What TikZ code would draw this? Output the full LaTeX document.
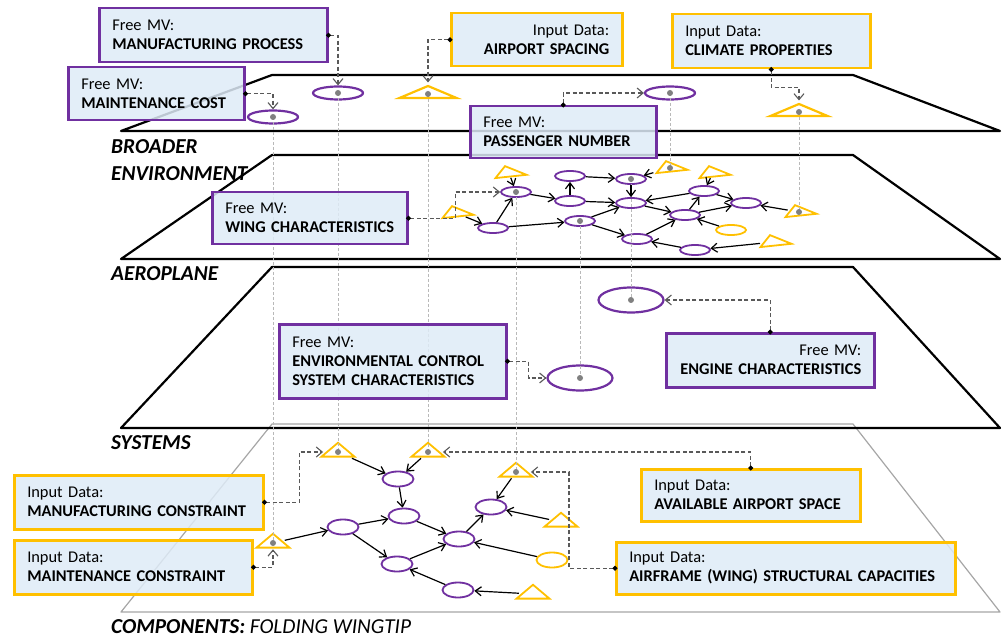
\documentclass[tikz,border=0pt]{standalone}
\usepackage{fontspec}
\setmainfont{Carlito}
\usepackage{xcolor}
\usepackage{tikz}
\usetikzlibrary{arrows.meta,shapes.geometric}
\definecolor{mvpurple}{HTML}{7030A0}
\definecolor{datagold}{HTML}{FFC000}
\definecolor{boxblue}{HTML}{DEEBF7}

\begin{document}
\begin{tikzpicture}[x=1pt,y=-1pt,
  layer/.style={draw=black,line width=2.2pt,line join=round},
  sublayer/.style={draw=gray!70,line width=1.2pt,line join=round},
  layerlabel/.style={font=\fontsize{21.3}{24}\selectfont\bfseries\itshape,inner sep=0pt,anchor=base west},
  mvnode/.style={ellipse,draw=mvpurple,line width=1.8pt,inner sep=0pt,minimum width=30pt,minimum height=10pt},
  topmv/.style={mvnode,minimum width=50pt,minimum height=13pt,line width=2.2pt},
  sysmv/.style={mvnode,minimum width=65pt,minimum height=25pt,line width=2.2pt},
  partmv/.style={mvnode,minimum width=31pt,minimum height=15pt},
  datanode/.style={regular polygon,regular polygon sides=3,draw=datagold,line width=1.8pt,inner sep=0pt,minimum size=10pt},
  topdata/.style={datanode,line width=2.2pt,xscale=6.6,yscale=1.6},
  planedata/.style={datanode,rotate=6,xslant=-0.45,xscale=3.6,yscale=1.45},
  partdata/.style={datanode,xscale=3.8,yscale=1.85},
  mvbox/.style={draw=mvpurple,line width=2.5pt,fill=boxblue,fill opacity=0.85,text opacity=1,anchor=north west,inner xsep=13pt,inner ysep=3pt,align=left,font=\fontsize{16.4}{19}\selectfont},
  databox/.style={mvbox,draw=datagold},
  link/.style={-{Straight Barb[length=6pt,width=9pt]},line width=1.2pt},
  feed/.style={{Circle[length=5pt,color=black]}-{Straight Barb[length=6pt,width=10pt]},shorten <=-2.5pt,draw=black!65,line width=1.1pt,dash pattern=on 4pt off 2.5pt},
  trace/.style={draw=gray!55,line width=0.7pt,dash pattern=on 3pt off 2pt},
  probe/.style={fill=gray}]
\useasboundingbox (0,0) rectangle (1002,639);

\draw[sublayer] (272,424) -- (853,424) -- (1000,612) -- (121,612) -- cycle;
\draw[layer] (272,267) -- (853,267) -- (1000,428) -- (121,428) -- cycle;
\draw[layer] (272,155) -- (853,155) -- (1000,259) -- (121,259) -- cycle;
\draw[layer] (272,75) -- (853,75) -- (1000,131) -- (121,131) -- cycle;

\node[layerlabel] (broader) at (111,154) {BROADER};
\node[layerlabel] (environment) at (111,181) {ENVIRONMENT};
\node[layerlabel] (aeroplane) at (111,280) {AEROPLANE};
\node[layerlabel] (systems) at (111,449) {SYSTEMS};
\node[layerlabel] (components) at (111,633) {COMPONENTS: {\mdseries FOLDING WINGTIP}};

\node[topmv] (e1) at (273,117) {};
\node[topmv] (e2) at (338,93) {};
\node[topdata] (t1) at (428,94) {};
\node[topmv] (e3) at (670,93) {};
\node[topdata] (t2) at (799,112) {};

\node[planedata] (a1) at (509,173) {};
\node[mvnode] (a2) at (516,192) {};
\node[mvnode] (a3) at (493,228) {};
\node[planedata] (a4) at (456,213) {};
\node[mvnode] (a5) at (570,176) {};
\node[mvnode] (a6) at (570,201) {};
\node[mvnode] (a7) at (580,221) {};
\node[mvnode] (a8) at (631,179) {};
\node[planedata] (a9) at (670,168) {};
\node[mvnode] (a10) at (631,203) {};
\node[mvnode] (a11) at (637,239) {};
\node[mvnode] (a12) at (685,215) {};
\node[mvnode] (a13) at (704,191) {};
\node[planedata] (a14) at (713,173) {};
\node[mvnode] (a15) at (746,203) {};
\node[planedata] (a16) at (799,212) {};
\node[mvnode,draw=datagold] (a17) at (731,230) {};
\node[mvnode] (a18) at (695,250) {};
\node[planedata] (a19) at (774,242) {};

\node[sysmv] (syseng) at (631,300) {};
\node[sysmv] (sysenv) at (580,378) {};

\node[partdata] (c1) at (273,543) {};
\node[partdata] (c2) at (338,452) {};
\node[partdata] (c3) at (428,452) {};
\node[partmv] (c4) at (398,479) {};
\node[partmv] (c5) at (404,516) {};
\node[partmv] (c6) at (343,527) {};
\node[partmv] (c7) at (397,564) {};
\node[partmv] (c8) at (459,539) {};
\node[partmv] (c9) at (491,507) {};
\node[partdata] (c10) at (516,472) {};
\node[partdata] (c11) at (561,522) {};
\node[partmv,draw=datagold] (c12) at (552,560) {};
\node[partmv] (c13) at (458,590) {};
\node[partdata] (c14) at (533,594) {};

\foreach \from/\to in {e1/c1,e2/c2,t1/c3,a2/c10,a7/sysenv,a8/syseng,e3/a9,t2/a16}
  \draw[trace] (\from.center) -- (\to.center);

\foreach \from/\to in {a1/a2,a4/a3,a3/a2,a2/a6,a6/a5,a5/a8,a9/a8,a8/a10,a6/a10,a3/a7,a7/a10,a7/a11,
  a11/a12,a10/a12,a12/a13,a13/a10,a14/a13,a13/a15,a12/a15,a16/a15,a17/a12,a18/a11,a19/a18,
  c2/c4,c3/c4,c4/c5,c1/c6,c6/c5,c6/c7,c5/c8,c7/c8,c8/c9,c10/c9,c11/c9,c12/c8,c13/c7,c14/c13}
  \draw[link] (\from) -- (\to);

\foreach \n in {e1,e2,t1,e3,t2,a2,a7,a8,a9,a16,sysenv,syseng,c1,c2,c3,c10}
  \fill[probe] (\n.center) circle (3);

\node[mvbox,minimum height=54pt,text width=202pt] (mfgproc) at (98,7) {Free MV:\\\textbf{MANUFACTURING PROCESS}};
\node[mvbox,minimum height=53pt,text width=150pt] (maintcost) at (67,66) {Free MV:\\\textbf{MAINTENANCE COST}};
\node[databox,align=right,minimum height=53pt,text width=145pt] (airport) at (450,12) {Input Data:\\\textbf{AIRPORT SPACING}};
\node[databox,minimum height=54pt,text width=172pt] (climate) at (671,13) {Input Data:\\\textbf{CLIMATE PROPERTIES}};
\node[mvbox,minimum height=52pt,text width=160pt] (passenger) at (469,105) {Free MV:\\\textbf{PASSENGER NUMBER}};
\node[mvbox,minimum height=52pt,text width=169pt] (wing) at (211,191) {Free MV:\\\textbf{WING CHARACTERISTICS}};
\node[mvbox,minimum height=74pt,text width=201pt] (env) at (278,323) {Free MV:\\\textbf{ENVIRONMENTAL CONTROL}\\\textbf{SYSTEM CHARACTERISTICS}};
\node[mvbox,align=right,minimum height=54pt,text width=182pt] (engine) at (665,332) {Free MV:\\\textbf{ENGINE CHARACTERISTICS}};
\node[databox,minimum height=52pt,text width=193pt] (avail) at (640,468) {Input Data:\\\textbf{AVAILABLE AIRPORT SPACE}};
\node[databox,minimum height=54pt,text width=223pt] (mfgcon) at (13,474) {Input Data:\\\textbf{MANUFACTURING CONSTRAINT}};
\node[databox,minimum height=54pt,text width=212pt] (maintcon) at (13,539) {Input Data:\\\textbf{MAINTENANCE CONSTRAINT}};
\node[databox,minimum height=52pt,text width=313pt] (airframe) at (615,541) {Input Data:\\\textbf{AIRFRAME (WING) STRUCTURAL CAPACITIES}};

\draw[feed] (mfgproc.east) -| (e2);
\draw[feed] (maintcost.east) -| (e1);
\draw[feed] (airport.west) -| (t1);
\draw[feed] (climate.south) -- ++(0,18) -| (t2);
\draw[feed] (passenger.north) |- (e3);
\draw[feed] (wing.east) -- ++(47,0) |- (a2);
\draw[feed] (env.east) -- ++(21,0) |- (sysenv);
\draw[feed] (engine.north) |- (syseng);
\draw[feed] (mfgcon.east) -- ++(35,0) |- (c2);
\draw[feed] (maintcon.east) -| (c1);
\draw[feed] (avail.north) |- (c3);
\draw[feed] (airframe.west) -- ++(-46,0) |- (c10);
\end{tikzpicture}
\end{document}
